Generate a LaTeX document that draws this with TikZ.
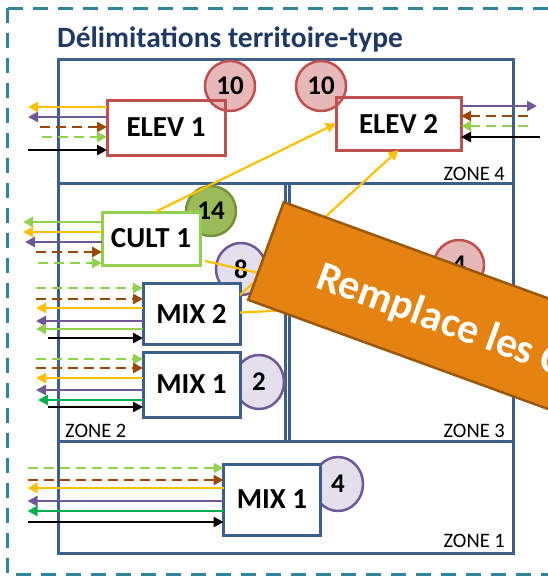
\documentclass[tikz,border=0pt]{standalone}
\usepackage{fontspec}
\setmainfont{Carlito}
\usetikzlibrary{arrows.meta,shapes.geometric,calc}

\definecolor{zoneblue}{RGB}{61,95,142}
\definecolor{frameteal}{RGB}{49,133,155}
\definecolor{titleblue}{RGB}{31,56,100}
\definecolor{elevred}{RGB}{192,80,77}
\definecolor{elevpink}{RGB}{230,185,184}
\definecolor{cultgreen}{RGB}{146,208,80}
\definecolor{cultolive}{RGB}{155,187,89}
\definecolor{olivedark}{RGB}{118,146,60}
\definecolor{mixpurple}{RGB}{112,88,150}
\definecolor{lavender}{RGB}{228,223,236}
\definecolor{flowgold}{RGB}{255,192,0}
\definecolor{flowpurple}{RGB}{112,88,150}
\definecolor{flowbrown}{RGB}{152,72,7}
\definecolor{flowlime}{RGB}{146,208,80}
\definecolor{flowgreen}{RGB}{0,176,80}
\definecolor{bannerfill}{RGB}{228,131,18}
\definecolor{banneredge}{RGB}{156,88,10}

\begin{document}
\begin{tikzpicture}[x=1pt,y=-1pt,
  zone/.style={draw=zoneblue,line width=3pt},
  zonelabel/.style={font=\fontsize{20.5}{21}\selectfont,inner sep=0pt},
  unit/.style={draw,line width=3pt,fill=white,inner sep=0pt,outer sep=0pt,font=\bfseries\fontsize{29}{29}\selectfont},
  elev/.style={unit,draw=elevred},
  cult/.style={unit,draw=cultgreen},
  mix/.style={unit,draw=zoneblue},
  count/.style={ellipse,line width=2.5pt,minimum width=50pt,minimum height=50pt,inner sep=0pt,font=\bfseries\fontsize{27}{27}\selectfont},
  flowout/.style={line width=2.6pt,{Triangle[length=10pt,width=10pt]}-},
  flowin/.style={line width=2.6pt,-{Triangle[length=10pt,width=10pt]}},
  flowdash/.style={dash pattern=on 10pt off 6pt},
  goldout/.style={flowout,flowgold},
  purpleout/.style={flowout,flowpurple},
  limeout/.style={flowout,flowlime},
  greenout/.style={flowout,flowgreen},
  brownin/.style={flowin,flowbrown,flowdash},
  limein/.style={flowin,flowlime,flowdash},
  blackin/.style={flowin,black},
  banner/.style={fill=bannerfill,draw=banneredge,line width=2.5pt}]

\useasboundingbox (0,0) rectangle (548,576);
\clip (0,0) rectangle (548,576);

% frame and title
\draw[frameteal,line width=3pt,dash pattern=on 15pt off 10pt] (7,8) rectangle (549,574);
\node[anchor=base west,inner sep=0pt,text=titleblue,font=\bfseries\fontsize{29.5}{30}\selectfont] (title) at (57,47) {Délimitations territoire-type};

% zones
\draw[zone] (58,59) rectangle (513,183);
\draw[zone] (58,183) rectangle (285.5,441);
\draw[zone] (289,183) rectangle (513,441);
\draw[zone] (58,441) rectangle (513,553);
\node[zonelabel,anchor=base east] (z4) at (505,180) {ZONE 4};
\node[zonelabel,anchor=base west] (z2) at (65,437) {ZONE 2};
\node[zonelabel,anchor=base east] (z3) at (505,437) {ZONE 3};
\node[zonelabel,anchor=base east] (z1) at (505,547) {ZONE 1};

% elevage units lie under their counts
\node[elev,minimum width=118pt,minimum height=55pt] (e1) at (166,127.5) {ELEV 1};
\node[elev,minimum width=125pt,minimum height=53pt] (e2) at (398.5,123.5) {ELEV 2};

% counts
\node[count,fill=elevpink,draw=elevred] (n10a) at (230,86) {10};
\node[count,fill=elevpink,draw=elevred] (n10b) at (321,86) {10};
\node[count,fill=cultolive,draw=olivedark] (n14) at (211,211) {14};
\node[count,fill=lavender,draw=mixpurple,minimum height=52pt] (n8) at (241,269) {8};
\node[count,fill=lavender,draw=mixpurple,minimum height=54pt] (n2) at (259,382) {2};
\node[count,fill=elevpink,draw=elevred] (n4a) at (459,265) {4};
\node[count,fill=lavender,draw=mixpurple,minimum height=54pt] (n4b) at (338,484) {4};
\draw[elevred,line width=3pt] (e1.north west) rectangle (e1.south east);
\draw[elevred,line width=3pt] (e2.north west) rectangle (e2.south east);

% other units
\node[cult,minimum width=98pt,minimum height=53pt] (c1) at (151,238.5) {CULT 1};
\node[mix,minimum width=97pt,minimum height=61pt] (m2) at (191.5,313.5) {MIX 2};
\node[mix,minimum width=97pt,minimum height=65pt] (m1) at (191.5,384.5) {MIX 1};
\node[mix,minimum width=97pt,minimum height=71pt] (m1b) at (272,499.5) {MIX 1};

% exchanges between units
\coordinate (hidA) at (380,300);
\coordinate (hidB) at (380,306);
\draw[flowgold,line width=2.2pt,-{Triangle[length=10pt,width=10pt]}] ([xshift=4pt]c1.north) -- (e2.west);
\draw[flowgold,line width=2.2pt,-{Triangle[length=10pt,width=10pt]}] ([yshift=-12pt]m2.north east) -- (e2.south);
\draw[flowgold,line width=2.2pt] ([xshift=5pt,yshift=4pt]c1.south east) -- (hidA);
\draw[flowgold,line width=2.2pt] ([yshift=1pt]m2.east) -- (hidB);

% exchanges with the outside
\foreach \y/\s/\l in {107/goldout/79,117/purpleout/79,127/brownin/67,137/limein/65,150/blackin/79}
  \draw[\s] ($(e1.west |- 0,\y)+(-\l,0)$) -- (e1.west |- 0,\y);
\foreach \y/\s/\l in {106/purpleout/76,116/brownin/67,126/limein/67,137/blackin/79}
  \draw[\s] ($(e2.east |- 0,\y)+(\l,0)$) -- (e2.east |- 0,\y);
\foreach \y/\s/\l in {222/limeout/79,232/goldout/79,242/purpleout/77,252/brownin/66,263/limein/64}
  \draw[\s] ($(c1.west |- 0,\y)+(-\l,0)$) -- (c1.west |- 0,\y);
\foreach \y/\s/\l in {288/limein/107,299/brownin/107,308/goldout/107,321/purpleout/107,329/limeout/107,338/blackin/95}
  \draw[\s] ($(m2.west |- 0,\y)+(-\l,0)$) -- (m2.west |- 0,\y);
\foreach \y/\s/\l in {359/limein/107,368/brownin/107,378/goldout/107,390/purpleout/107,400/greenout/105,407/blackin/95}
  \draw[\s] ($(m1.west |- 0,\y)+(-\l,0)$) -- (m1.west |- 0,\y);
\foreach \y/\s/\l in {468/limein/196,480/brownin/196,488/goldout/196,501/purpleout/196,511/greenout/196,522/blackin/196}
  \draw[\s] ($(m1b.west |- 0,\y)+(-\l,0)$) -- (m1b.west |- 0,\y);

% note on top
\begin{scope}[shift={(266,251)},rotate=-20]
\draw[banner] (0,-52) rectangle (420,52);
\end{scope}
\node[anchor=base west,rotate=-20,inner sep=0pt,text=white,font=\bfseries\fontsize{42}{42}\selectfont] (note) at (314,287) {Remplace les C};

\end{tikzpicture}
\end{document}
